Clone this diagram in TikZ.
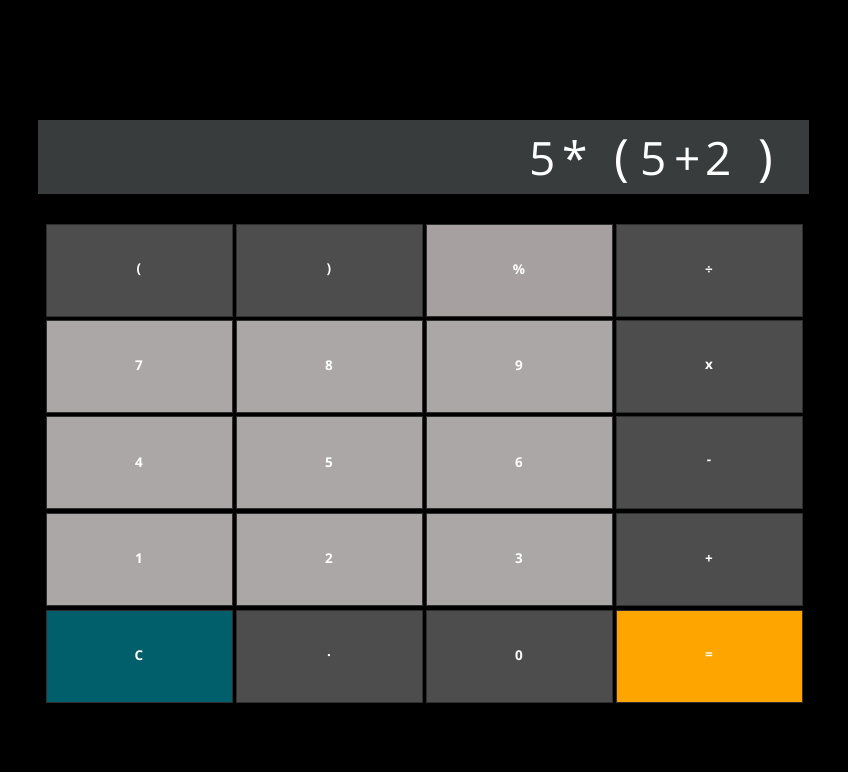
\documentclass[tikz,border=0pt]{standalone}
\usepackage{fontspec}
\setmainfont{Open Sans}
\newfontfamily\btnfont{Open Sans}
\definecolor{bg}{HTML}{000000}
\definecolor{disp}{HTML}{383C3C}
\definecolor{darkbtn}{HTML}{4D4D4D}
\definecolor{lightbtn}{HTML}{ABA7A6}
\definecolor{pctbtn}{HTML}{A6A1A0}
\definecolor{clearbtn}{HTML}{005F6B}
\definecolor{eqbtn}{HTML}{FFA500}
\definecolor{edge}{HTML}{2E2E2E}
\begin{document}
\begin{tikzpicture}[x=1pt,y=-1pt,
  btn/.style={draw=edge, line width=1pt, minimum width=186pt, minimum height=92pt,
    inner sep=0pt, text=white, font=\btnfont\fontsize{13.5}{13.5}\selectfont\bfseries, anchor=north west},
  dk/.style={btn, fill=darkbtn},
  lt/.style={btn, fill=lightbtn},
  ch/.style={text=white, anchor=base, inner sep=0pt, font=\fontsize{46}{46}\selectfont}]
\fill[bg] (0,0) rectangle (848,772);
\useasboundingbox (0,0) rectangle (848,772);
\node[fill=disp, minimum width=771pt, minimum height=74pt, inner sep=0pt, anchor=north west] (display) at (38,120) {};
\node[ch] (c1) at (543,175) {5};
\node[ch] (c2) at (575,175) {*};
\node[ch, font=\fontsize{50}{50}\selectfont] (c3) at (622,175) {(};
\node[ch] (c4) at (654,175) {5};
\node[ch] (c5) at (688,175) {+};
\node[ch] (c6) at (719,175) {2};
\node[ch, font=\fontsize{50}{50}\selectfont] (c7) at (766,175) {)};
% row 1
\node[dk] (lp) at (45.5,223.5) {(};
\node[dk] (rp) at (235.5,223.5) {)};
\node[btn, fill=pctbtn] (pct) at (425.5,223.5) {\%};
\node[dk] (div) at (615.5,223.5) {÷};
% row 2
\node[lt] (b7) at (45.5,319.5) {7};
\node[lt] (b8) at (235.5,319.5) {8};
\node[lt] (b9) at (425.5,319.5) {9};
\node[dk] (mul) at (615.5,319.5) {x};
% row 3
\node[lt] (b4) at (45.5,416) {4};
\node[lt] (b5) at (235.5,416) {5};
\node[lt] (b6) at (425.5,416) {6};
\node[dk] (sub) at (615.5,416) {-};
% row 4
\node[lt] (b1) at (45.5,512.5) {1};
\node[lt] (b2) at (235.5,512.5) {2};
\node[lt] (b3) at (425.5,512.5) {3};
\node[dk] (add) at (615.5,512.5) {+};
% row 5
\node[btn, fill=clearbtn] (clr) at (45.5,609.5) {C};
\node[dk] (dot) at (235.5,609.5) {.};
\node[dk] (b0) at (425.5,609.5) {0};
\node[btn, fill=eqbtn] (eq) at (615.5,609.5) {=};
\end{tikzpicture}
\end{document}
